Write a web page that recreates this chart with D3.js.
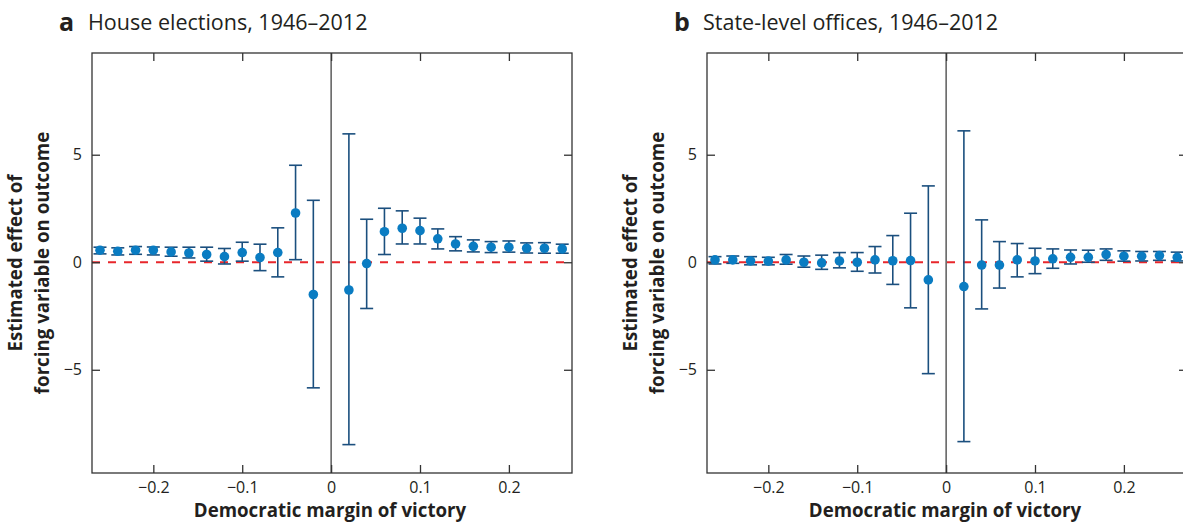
<!DOCTYPE html>
<html>
<head>
<meta charset="utf-8">
<script src="https://cdn.jsdelivr.net/npm/d3@7"></script>
<style>
  body { margin: 0; background: #fff; }
  svg { display: block; font-family: "Open Sans", sans-serif; }
  .title { font-size: 21.5px; fill: #231f20; }
  .letter { font-size: 25px; font-weight: bold; fill: #231f20; }
  .axis-label { font-size: 18.7px; font-weight: bold; fill: #231f20; }
</style>
</head>
<body>
<div id="chart"></div>
<script>
var margins = [-0.26, -0.24, -0.22, -0.20, -0.18, -0.16, -0.14, -0.12, -0.10, -0.08, -0.06, -0.04, -0.02,
               0.02, 0.04, 0.06, 0.08, 0.10, 0.12, 0.14, 0.16, 0.18, 0.20, 0.22, 0.24, 0.26];

// panel a, House elections
var houseEst = [0.56, 0.51, 0.56, 0.56, 0.48, 0.43, 0.36, 0.26, 0.45, 0.22, 0.45, 2.29, -1.50,
                -1.29, -0.06, 1.42, 1.58, 1.47, 1.09, 0.85, 0.74, 0.70, 0.70, 0.65, 0.65, 0.62];
var houseLo  = [0.39, 0.34, 0.37, 0.34, 0.28, 0.20, 0.05, -0.08, 0.05, -0.39, -0.68, 0.12, -5.84,
                -8.48, -2.15, 0.36, 0.85, 0.85, 0.62, 0.53, 0.48, 0.45, 0.47, 0.43, 0.42, 0.42];
var houseHi  = [0.70, 0.67, 0.73, 0.71, 0.70, 0.70, 0.70, 0.64, 0.93, 0.84, 1.60, 4.51, 2.88,
                5.97, 2.00, 2.51, 2.39, 2.05, 1.55, 1.19, 1.04, 0.96, 0.99, 0.90, 0.91, 0.84];

// panel b, state-level offices
var stateEst = [0.11, 0.11, 0.06, 0.05, 0.11, 0.00, -0.03, 0.06, 0.00, 0.11, 0.07, 0.08, -0.82,
                -1.13, -0.13, -0.13, 0.11, 0.06, 0.16, 0.23, 0.23, 0.36, 0.28, 0.28, 0.31, 0.23];
var stateLo  = [-0.08, -0.05, -0.12, -0.12, -0.09, -0.23, -0.33, -0.26, -0.42, -0.50, -1.03, -2.12, -5.18,
                -8.34, -2.17, -1.20, -0.68, -0.53, -0.28, -0.08, 0.00, 0.09, 0.05, 0.06, 0.09, 0.06];
var stateHi  = [0.26, 0.29, 0.26, 0.23, 0.36, 0.29, 0.33, 0.45, 0.45, 0.73, 1.24, 2.28, 3.55,
                6.11, 1.97, 0.96, 0.87, 0.65, 0.62, 0.57, 0.56, 0.62, 0.53, 0.50, 0.50, 0.47];

var xTicks = [-0.2, -0.1, 0, 0.1, 0.2];
var yTicks = [-5, 0, 5];

var panels = [
  {letter: "a", title: "House elections, 1946\u20132012", est: houseEst, lo: houseLo, hi: houseHi, left: 92},
  {letter: "b", title: "State-level offices, 1946\u20132012", est: stateEst, lo: stateLo, hi: stateHi, left: 707}
];

var W = 1183, H = 523,
    plotTop = 53, pw = 480, ph = 420;

var svg = d3.select("#chart").append("svg")
    .attr("width", W)
    .attr("height", H);

var fmt = function(d) { return d === 0 ? "0" : d3.format(".1f")(d).replace("-", "\u2212"); };
var fmtY = function(d) { return String(d).replace("-", "\u2212"); };

panels.forEach(drawPanel);

function drawPanel(p){
  var x = d3.scaleLinear().domain([-0.269, 0.271]).range([0, pw]),
      y = d3.scaleLinear().domain([-9.8, 9.73]).range([ph, 0]);

  var g = svg.append("g")
      .attr("transform", "translate(" + p.left + "," + plotTop + ")");

  // title
  g.append("text").attr("class", "letter")
      .attr("x", -33).attr("y", -22)
      .text(p.letter);
  g.append("text").attr("class", "title")
      .attr("x", -4).attr("y", -23)
      .text(p.title);

  // zero line (vertical)
  g.append("line")
      .attr("x1", x(0)).attr("x2", x(0))
      .attr("y1", 0).attr("y2", ph)
      .attr("stroke", "#333").attr("stroke-width", 1.2);

  // red dashed reference line
  g.append("line")
      .attr("x1", 0).attr("x2", pw)
      .attr("y1", y(0)).attr("y2", y(0))
      .attr("stroke", "#e8262b").attr("stroke-width", 2)
      .attr("stroke-dasharray", "8,8");

  // axes with inward ticks, mirrored
  var tl = 8;
  g.append("g").attr("transform", "translate(0," + ph + ")")
      .call(d3.axisBottom(x).tickValues(xTicks).tickSize(-tl).tickFormat(fmt).tickPadding(9))
      .call(styleAxis);
  g.append("g")
      .call(d3.axisTop(x).tickValues(xTicks).tickSize(-tl).tickFormat(""))
      .call(styleAxis);
  g.append("g")
      .call(d3.axisLeft(y).tickValues(yTicks).tickSize(-tl).tickFormat(fmtY).tickPadding(10))
      .call(styleAxis);
  g.append("g").attr("transform", "translate(" + pw + ",0)")
      .call(d3.axisRight(y).tickValues(yTicks).tickSize(-tl).tickFormat(""))
      .call(styleAxis);

  // frame
  g.append("rect")
      .attr("width", pw).attr("height", ph)
      .attr("fill", "none").attr("stroke", "#333").attr("stroke-width", 1.3);

  // error bars and points
  var data = margins.map(function(m, i){ return {m: m, est: p.est[i], lo: p.lo[i], hi: p.hi[i]}; });
  var cap = 6.5;
  var bars = g.selectAll(".err").data(data).enter().append("g").attr("class", "err")
      .attr("stroke", "#1b4f7e").attr("stroke-width", 1.6);
  bars.append("line")
      .attr("x1", function(d){ return x(d.m); }).attr("x2", function(d){ return x(d.m); })
      .attr("y1", function(d){ return y(d.lo); }).attr("y2", function(d){ return y(d.hi); });
  bars.append("line")
      .attr("x1", function(d){ return x(d.m) - cap; }).attr("x2", function(d){ return x(d.m) + cap; })
      .attr("y1", function(d){ return y(d.hi); }).attr("y2", function(d){ return y(d.hi); });
  bars.append("line")
      .attr("x1", function(d){ return x(d.m) - cap; }).attr("x2", function(d){ return x(d.m) + cap; })
      .attr("y1", function(d){ return y(d.lo); }).attr("y2", function(d){ return y(d.lo); });

  g.selectAll(".pt").data(data).enter().append("circle").attr("class", "pt")
      .attr("cx", function(d){ return x(d.m); })
      .attr("cy", function(d){ return y(d.est); })
      .attr("r", 4.8)
      .attr("fill", "#0a7cc2");

  // axis labels
  g.append("text").attr("class", "axis-label")
      .attr("x", pw / 2 - 2).attr("y", ph + 44)
      .attr("text-anchor", "middle")
      .text("Democratic margin of victory");

  var yl = g.append("text").attr("class", "axis-label")
      .attr("transform", "translate(0," + (ph / 2) + ") rotate(-90)")
      .attr("text-anchor", "middle");
  yl.append("tspan").attr("x", 0).attr("y", -70).text("Estimated effect of");
  yl.append("tspan").attr("x", 0).attr("y", -43).text("forcing variable on outcome");
}

function styleAxis(sel){
  sel.select(".domain").remove();
  sel.selectAll(".tick line").attr("stroke", "#333").attr("stroke-width", 1.3);
  sel.selectAll(".tick text").attr("fill", "#231f20")
      .style("font-size", "16px").style("font-family", "'Open Sans', sans-serif");
}
</script>
</body>
</html>
